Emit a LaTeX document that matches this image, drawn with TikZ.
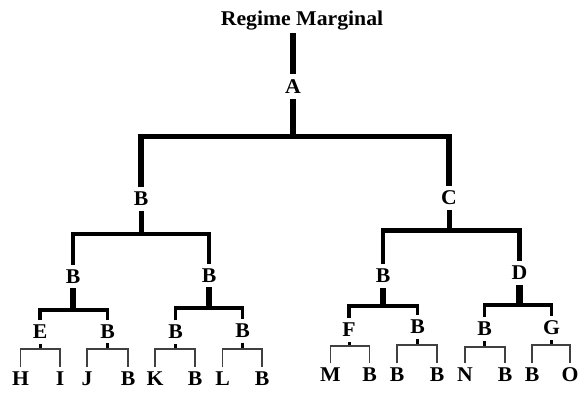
\documentclass[tikz,border=0pt]{standalone}
\usepackage{fontspec}
\newfontfamily\lblfont[FakeStretch=1.035]{Liberation Serif}
\begin{document}
\begin{tikzpicture}[x=1pt,y=-1pt,
  lbl/.style={font={\lblfont\bfseries\fontsize{21pt}{21pt}\selectfont}, inner xsep=0pt, inner ysep=4.6pt, text height=13.9pt, text depth=0pt},
  wtop/.style={line width=5.5pt},
  sone/.style={line width=5pt},
  kone/.style={line width=4.5pt},
  stwo/.style={line width=6.5pt},
  ktwo/.style={line width=3.5pt},
  sthree/.style={line width=3pt},
  kthree/.style={line width=1.2pt, draw=black!75}]
\useasboundingbox (0,0) rectangle (579,392);
% nodes
\node[lbl, inner ysep=7.3pt] (title) at (302,18.8) {Regime Marginal};
\coordinate (t0) at (293,0);
\node[lbl, inner ysep=5.8pt] (A) at (293,86.5) {A};
\node[lbl] (B1) at (141,199) {B};
\node[lbl] (C) at (449,198) {C};
\node[lbl] (B11) at (73,276.5) {B};
\node[lbl] (B12) at (209,275.5) {B};
\node[lbl] (B21) at (383,276) {B};
\node[lbl] (D) at (519.5,273) {D};
\node[lbl] (E) at (40,332) {E};
\node[lbl] (B112) at (107.5,331.5) {B};
\node[lbl] (B121) at (175.5,332) {B};
\node[lbl] (B122) at (242.5,331) {B};
\node[lbl] (F) at (349,330) {F};
\node[lbl] (B212) at (417.5,327) {B};
\node[lbl] (B221) at (484.5,329) {B};
\node[lbl] (G) at (551.5,328) {G};
% leaves
\node[lbl] (H) at (20.5,379) {H};
\node[lbl] (I) at (60,379) {I};
\node[lbl] (J) at (87,379) {J};
\node[lbl] (LJ) at (128,379) {B};
\node[lbl] (K) at (155,379) {K};
\node[lbl] (LK) at (195,379) {B};
\node[lbl] (L) at (222.5,379) {L};
\node[lbl] (LL) at (262,379) {B};
\node[lbl] (M) at (330.5,375) {M};
\node[lbl] (LM) at (369.5,375) {B};
\node[lbl] (P1) at (397,375) {B};
\node[lbl] (P2) at (437,375) {B};
\node[lbl] (N) at (465,375) {N};
\node[lbl] (LN) at (505,375) {B};
\node[lbl] (LG) at (532,375) {B};
\node[lbl] (O) at (570,375) {O};
% bar levels
\coordinate (b0) at (293,136.5);
\coordinate (b1) at (141,234);
\coordinate (b2) at (449,230.5);
\coordinate (b11) at (73,310);
\coordinate (b12) at (209,308);
\coordinate (b21) at (383,306);
\coordinate (b22) at (519.5,305);
\coordinate (cE) at (40,349);
\coordinate (c112) at (107.5,349);
\coordinate (c121) at (175.5,349);
\coordinate (c122) at (242.5,349);
\coordinate (cF) at (349,346);
\coordinate (c212) at (417.5,345);
\coordinate (c221) at (484.5,347);
\coordinate (cG) at (551.5,345);
% level 0
\draw[wtop] (t0 |- title.south) -- (A.north);
\draw[wtop] (A.south) -- (b0);
\draw[wtop] (B1.north) |- (b0) -| (C.north);
% level 1
\draw[sone] (B1.south) -- (b1);
\draw[sone] (C.south) -- (b2);
\draw[kone] (B11.north) |- (b1) -| (B12.north);
\draw[kone] (B21.north) |- (b2) -| (D.north);
% level 2
\draw[stwo] (B11.south) -- (b11);
\draw[stwo] (B12.south) -- (b12);
\draw[stwo] (B21.south) -- (b21);
\draw[stwo] (D.south) -- (b22);
\draw[ktwo] (E.north) |- (b11) -| (B112.north);
\draw[ktwo] (B121.north) |- (b12) -| (B122.north);
\draw[ktwo] (F.north) |- (b21) -| (B212.north);
\draw[ktwo] (B221.north) |- (b22) -| (G.north);
% level 3
\draw[sthree] (E.south) -- (cE);
\draw[sthree] (B112.south) -- (c112);
\draw[sthree] (B121.south) -- (c121);
\draw[sthree] (B122.south) -- (c122);
\draw[sthree] (F.south) -- (cF);
\draw[sthree] (B212.south) -- (c212);
\draw[sthree] (B221.south) -- (c221);
\draw[sthree] (G.south) -- (cG);
\draw[kthree] (H.north) |- (cE) -| (I.north);
\draw[kthree] (J.north) |- (c112) -| (LJ.north);
\draw[kthree] (K.north) |- (c121) -| (LK.north);
\draw[kthree] (L.north) |- (c122) -| (LL.north);
\draw[kthree] (M.north) |- (cF) -| (LM.north);
\draw[kthree] (P1.north) |- (c212) -| (P2.north);
\draw[kthree] (N.north) |- (c221) -| (LN.north);
\draw[kthree] (LG.north) |- (cG) -| (O.north);
\end{tikzpicture}
\end{document}
